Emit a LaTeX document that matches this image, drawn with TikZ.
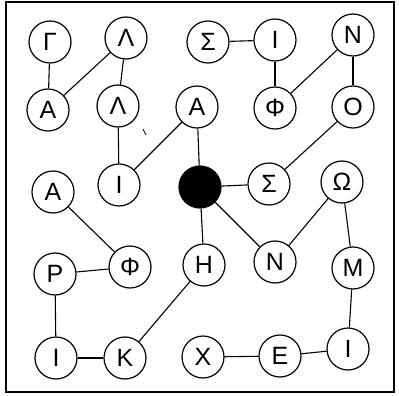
\documentclass[tikz,border=0pt]{standalone}
\usepackage{fontspec}
\setmainfont{Liberation Sans}
\begin{document}
\begin{tikzpicture}[x=1pt,y=-1pt,
  lt/.style={circle,draw,line width=1.2pt,minimum size=42pt,inner sep=0pt,font=\fontsize{25}{25}\selectfont},
  dark/.style={circle,fill=black,draw,line width=1.2pt,minimum size=42pt,inner sep=0pt},
  link/.style={line width=1.1pt}]
\useasboundingbox (0,0) rectangle (399,396);
\draw[line width=1.3pt] (6,2) rectangle (394,392);
% row 1
\node[lt] (g1) at (50,42) {Γ};
\node[lt] (l1) at (126,38) {Λ};
\node[lt] (s1) at (208,42) {Σ};
\node[lt] (i1) at (275,40) {Ι};
\node[lt] (n1) at (353,35) {Ν};
% row 2
\node[lt] (a2) at (48,110) {Α};
\node[lt] (l2) at (118,106) {Λ};
\node[lt] (a3) at (197,107) {Α};
\node[lt] (f1) at (275,108) {Φ};
\node[lt] (o1) at (353,107) {Ο};
% row 3
\node[lt] (a4) at (53,192) {Α};
\node[lt] (i2) at (119,185) {Ι};
\node[dark] (c) at (200,187) {};
\node[lt] (s2) at (269,184) {Σ};
\node[lt] (w1) at (342,182) {Ω};
% row 4
\node[lt] (r1) at (55,274) {Ρ};
\node[lt] (f2) at (130,267) {Φ};
\node[lt] (h1) at (204,265) {Η};
\node[lt] (n2) at (275,262) {Ν};
\node[lt] (m1) at (353,268) {Μ};
% row 5
\node[lt] (i3) at (56,358) {Ι};
\node[lt] (k1) at (125,358) {Κ};
\node[lt] (x1) at (203,357) {Χ};
\node[lt] (e1) at (280,356) {Ε};
\node[lt] (i4) at (348,349) {Ι};
% links
\draw[link] (g1) -- (a2);
\draw[link] (a2) -- (l1);
\draw[link] (l1) -- (l2);
\draw[link] (l2) -- (i2);
\draw[link] (i2) -- (a3);
\draw[link] (a3) -- (c);
\draw[link] (s1) -- (i1);
\draw[link] (i1) -- (f1);
\draw[link] (f1) -- (n1);
\draw[link] (n1) -- (o1);
\draw[link] (o1) -- (s2);
\draw[link] (c) -- (s2);
\draw[link] (c) -- (n2);
\draw[link] (n2) -- (w1);
\draw[link] (w1) -- (m1);
\draw[link] (m1) -- (i4);
\draw[link] (i4) -- (e1);
\draw[link] (e1) -- (x1);
\draw[link] (c) -- (h1);
\draw[link] (h1) -- (k1);
\draw[link] (k1) -- (i3);
\draw[link] (i3) -- (r1);
\draw[link] (r1) -- (f2);
\draw[link] (f2) -- (a4);
% stray tick
\coordinate (t1) at (143,129);
\coordinate (t2) at (146,135);
\draw[line width=0.8pt] (t1) -- (t2);
\end{tikzpicture}
\end{document}
